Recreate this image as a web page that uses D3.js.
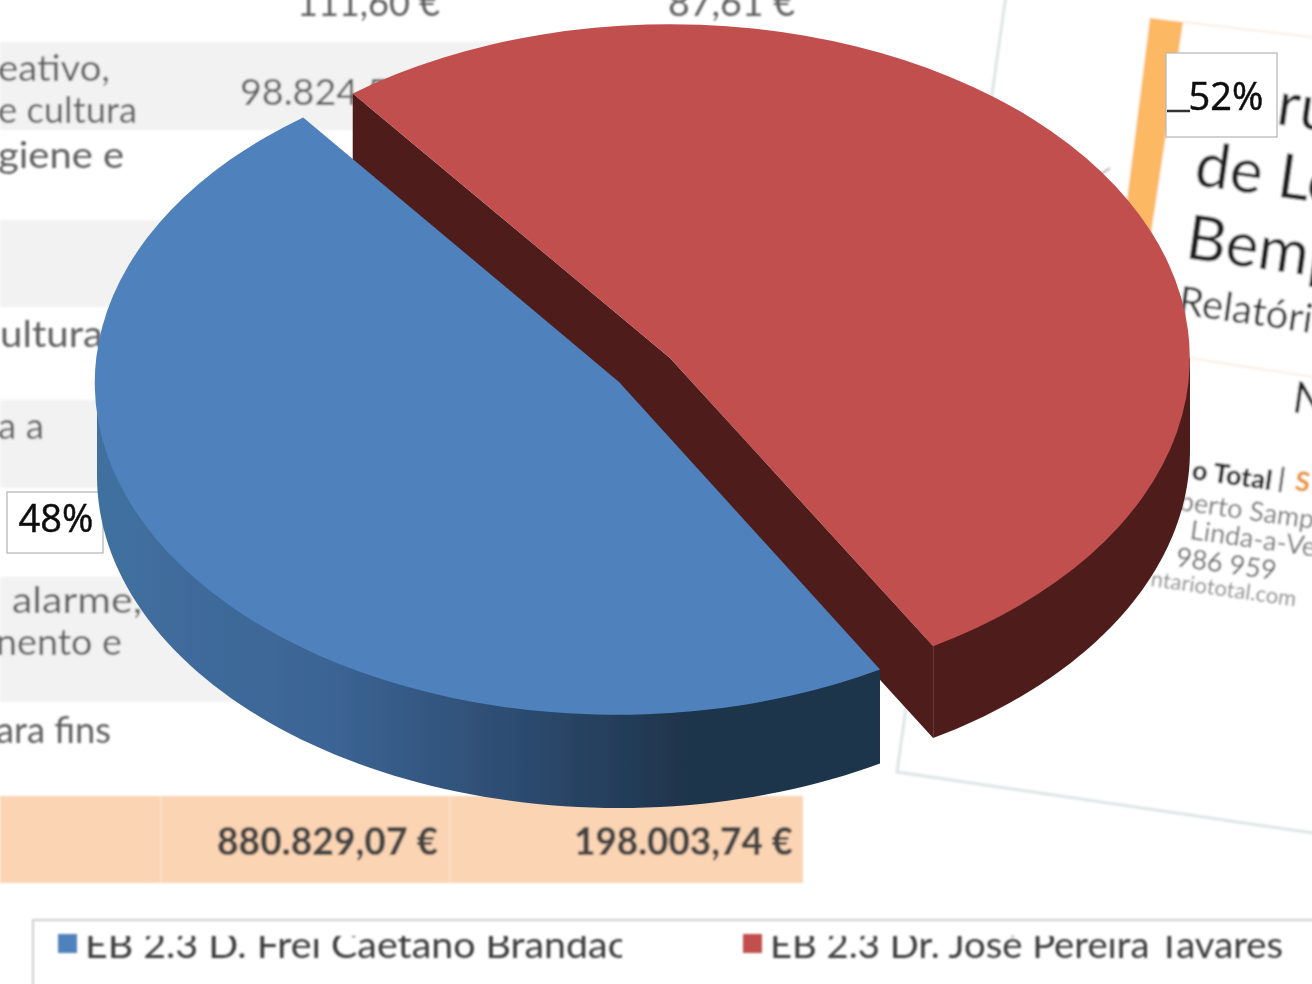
<!DOCTYPE html>
<html><head><meta charset="utf-8">
<script src="https://cdn.jsdelivr.net/npm/d3@7"></script>
<style>html,body{margin:0;padding:0;background:#fff;overflow:hidden}svg{display:block}</style>
</head><body><svg id="c" width="1312" height="984"></svg>
<script>
const seriesNames = ["EB 2.3 D. Frei Caetano Brandão", "EB 2.3 Dr. José Pereira Tavares"];
const seriesValues = [48, 52];
const seriesLabels = ["48%", "52%"];
const seriesColors = ["#4f81bd", "#c0504d"];
const tableTexts = ["111,60 €","87,61 €","98.824,50 €","eativo,","e cultura","giene e","ultura","a a","alarme,","nento e","ara fins"];
const tableTotals = ["880.829,07 €","198.003,74 €"];
const docTitle = ["ru","de Lo","Bemp"];
const docSub = ["Relatório","N"];
const docContact = ["berto Samp","Linda-a-Ve","986 959","ntariototal.com"];

const svg = d3.select("#c");
const defs = svg.append("defs");
defs.append("filter").attr("id","soft").append("feGaussianBlur").attr("stdDeviation",0.9);
defs.append("filter").attr("id","soft2").append("feGaussianBlur").attr("stdDeviation",0.45);
const grad = defs.append("linearGradient").attr("id","blueSide").attr("gradientUnits","userSpaceOnUse")
  .attr("x1",97).attr("x2",880).attr("y1",0).attr("y2",0);
[[0,"#41709f"],[0.3,"#3b6494"],[0.55,"#2c4a6e"],[0.75,"#1f344c"],[1,"#1f344c"]].forEach(s=>grad.append("stop").attr("offset",s[0]).attr("stop-color",s[1]));
defs.append("clipPath").attr("id","legClip").append("rect").attr("x",0).attr("y",936).attr("width",1312).attr("height",48);
defs.append("clipPath").attr("id","legClip1").append("rect").attr("x",0).attr("y",936).attr("width",622).attr("height",48);

const FONT = "Lato, 'Open Sans', sans-serif";
const bg = svg.append("g").attr("filter","url(#soft)");

// rotated document
bg.append("polygon").attr("points","1006,-5 1320,-5 1320,834 897,772").attr("fill","#fff").attr("stroke","#dde5e5").attr("stroke-width",3);
bg.append("polygon").attr("points","1150,18 1183,22 1150,240 1122,240").attr("fill","#fdb863");
bg.append("line").attr("x1",1183).attr("y1",22).attr("x2",1320).attr("y2",38).attr("stroke","#fbeee4").attr("stroke-width",2);
bg.append("line").attr("x1",1150).attr("y1",352).attr("x2",1320).attr("y2",378).attr("stroke","#fbeee4").attr("stroke-width",2);
bg.append("line").attr("x1",1098).attr("y1",176).attr("x2",1110).attr("y2",168).attr("stroke","#aaa").attr("stroke-width",2);

function docText(t,x,y,size,fill,weight){
  bg.append("text").attr("transform",`translate(${x},${y}) rotate(8)`).attr("font-family",FONT)
    .attr("font-size",size).attr("fill",fill).attr("font-weight",weight||400).text(t);
}
docText(docTitle[0],1275,124,62,"#222");
docText(docTitle[1],1193,185,62,"#222");
docText(docTitle[2],1184,258,62,"#222");
docText(docSub[0],1177,314,40,"#333");
docText(docSub[1],1291,412,44,"#222");
docText("o Total",1191,479,27,"#222",900);
docText("|",1277,487,27,"#444",700);
docText("S",1294,490,27,"#e8962f",900);
docText(docContact[0],1178,510,27,"#777");
docText(docContact[1],1189,539,27,"#777");
docText(docContact[2],1175,566,27,"#666");
docText(docContact[3],1150,586,22,"#888");

// table bands
[[42,88],[220,87],[400,88],[577,125]].forEach(b=>bg.append("rect").attr("x",0).attr("y",b[0]).attr("width",800).attr("height",b[1]).attr("fill","#f2f2f2"));
bg.append("rect").attr("x",0).attr("y",796).attr("width",803).attr("height",87).attr("fill","#fbd4b4");
[161,450].forEach(x=>bg.append("line").attr("x1",x).attr("x2",x).attr("y1",796).attr("y2",883).attr("stroke","#fde3cf").attr("stroke-width",1.5));

const rows = [
 [tableTexts[0],297,143,16],[tableTexts[1],668,127,16],[tableTexts[2],240,202,105],
 [tableTexts[3],-2,112,81],[tableTexts[4],-2,139,123],[tableTexts[5],-2,126,168],
 [tableTexts[6],0,103,347],[tableTexts[7],-2,46,439],[tableTexts[8],12,130,613],
 [tableTexts[9],-4,126,655],[tableTexts[10],-4,115,743]
];
rows.forEach(r=>bg.append("text").attr("x",r[1]).attr("y",r[3]).attr("font-family",FONT).attr("font-size",37)
  .attr("fill","#5f5f5f").attr("textLength",r[2]).attr("lengthAdjust","spacingAndGlyphs").text(r[0]));
[[tableTotals[0],217,221],[tableTotals[1],574,219]].forEach(r=>bg.append("text").attr("x",r[1]).attr("y",855).attr("font-family",FONT).attr("font-weight",900).attr("font-size",37)
  .attr("fill","#444").attr("textLength",r[2]).attr("lengthAdjust","spacingAndGlyphs").text(r[0]));

// legend
bg.append("path").attr("d","M33,990V920H1320").attr("fill","none").attr("stroke","#bdbdbd").attr("stroke-width",1.5);
const legendX = [[58,85,545,"legClip1"],[743,770,513,"legClip"]];
seriesNames.forEach((n,i)=>{
  const L = legendX[i];
  bg.append("rect").attr("x",L[0]).attr("y",934).attr("width",19).attr("height",19).attr("fill",seriesColors[i]);
  bg.append("g").attr("clip-path",`url(#${L[3]})`).append("text").attr("x",L[1]).attr("y",958).attr("font-family",FONT)
    .attr("font-size",37).attr("fill","#3a3a3a").attr("textLength",L[2]).attr("lengthAdjust","spacingAndGlyphs").text(n);
});

// label boxes
const labelBoxes = [[7,492,96,61,56,532],[1166,53,111,84,1226,110]];
const labels = svg.append("g").attr("filter","url(#soft2)");
seriesLabels.forEach((t,i)=>{
  const b = labelBoxes[i];
  labels.append("rect").attr("x",b[0]).attr("y",b[1]).attr("width",b[2]).attr("height",b[3]).attr("fill","#fff").attr("stroke","#b5b5b5").attr("stroke-width",1.2);
  labels.append("text").attr("x",b[4]).attr("y",b[5]).attr("text-anchor","middle").attr("font-family","'Open Sans',sans-serif")
    .attr("font-size",38).attr("fill","#111").attr("stroke","#111").attr("stroke-width",0.5).text(t);
});
labels.append("line").attr("x1",1167).attr("x2",1190).attr("y1",111).attr("y2",111).attr("stroke","#333").attr("stroke-width",2.5);

// pie
const deg = Math.PI/180;
const pie = d3.pie().sort(null).value(d=>d).startAngle(150*deg).endAngle((150+360)*deg);
const arcs = pie(seriesValues);
const geom = [
  {cx:619,cy:382,rx:522,ry:332,depth:94,rot:0},
  {cx:670,cy:358,rx:520,ry:334,depth:92,rot:-0.4*deg}
];
const pt = (g,a,dy=0,r=1)=>[g.cx+r*g.rx*Math.sin(a), g.cy-r*g.ry*Math.cos(a)+dy];
const lineGen = d3.line();
function sidePath(g,a0,a1){
  const n=80, s=d3.range(n+1).map(i=>a0+(a1-a0)*i/n);
  const inset = s.map(a=>pt(g,a,0,0.97));
  return lineGen(inset.concat([pt(g,a1)], s.slice().reverse().map(a=>pt(g,a,g.depth)), [pt(g,a0)]))+"Z";
}
const pieG = svg.append("g").attr("filter","url(#soft2)");
const [blue,red] = arcs, gB=geom[0], gR=geom[1];
const redStart = red.startAngle+gR.rot, redEnd = red.endAngle+gR.rot;
pieG.append("path").attr("d",sidePath(gR, Math.PI/2+2*Math.PI, redEnd)).attr("fill","#4f1e1c");
const apex=[gR.cx,gR.cy], s0=pt(gR,redStart), e0=pt(gR,redEnd);
const down=p=>[p[0],p[1]+gR.depth];
pieG.append("path").attr("d",lineGen([s0,apex,e0,down(e0),down(apex),down(s0)])+"Z").attr("fill","#4f1e1c");
const arcGen = d3.arc().innerRadius(0).outerRadius(1);
pieG.append("path").attr("transform",`translate(${gR.cx},${gR.cy}) scale(${gR.rx},${gR.ry})`)
  .attr("d",arcGen({startAngle:redStart,endAngle:redEnd})).attr("fill",seriesColors[1]);
pieG.append("path").attr("d",sidePath(gB, blue.startAngle, 270*deg)).attr("fill","url(#blueSide)");
pieG.append("path").attr("transform",`translate(${gB.cx},${gB.cy}) scale(${gB.rx},${gB.ry})`).attr("d",arcGen(blue)).attr("fill",seriesColors[0]);
</script></body></html>
